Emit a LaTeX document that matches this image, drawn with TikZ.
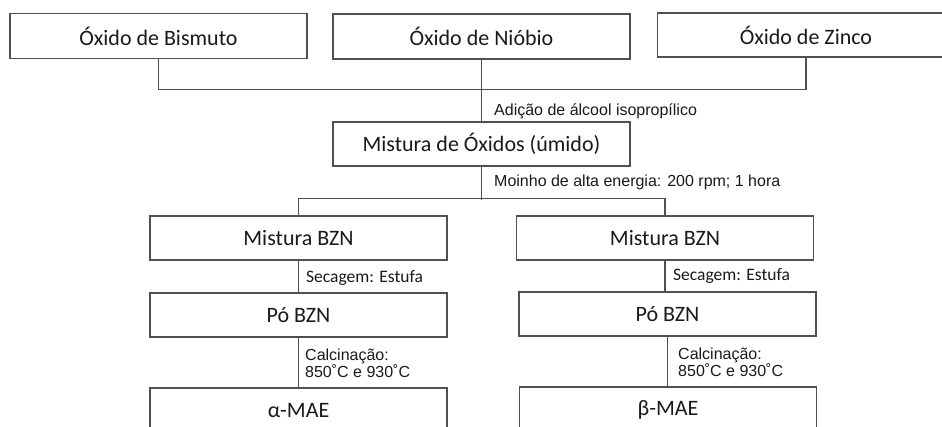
\documentclass[tikz,border=0pt]{standalone}
\usepackage{fontspec}
\setmainfont{Carlito}
\newfontfamily\arialf{Liberation Sans}
\definecolor{linegray}{HTML}{505050}
\definecolor{txt}{HTML}{1A1A1A}
\begin{document}
\begin{tikzpicture}[x=1pt,y=-1pt,
  box/.style={draw=linegray, line width=1.3pt, minimum width=297pt, minimum height=45pt,
    inner sep=0pt, font=\fontsize{22}{26}\selectfont, text=txt},
  lbl/.style={anchor=west, inner sep=0pt, font=\arialf\fontsize{16}{17}\selectfont, align=left, text=txt},
  lblc/.style={anchor=west, inner sep=0pt, font=\fontsize{17.5}{20}\selectfont, text=txt},
  conn/.style={draw=linegray, line width=1.3pt}]
\useasboundingbox (0,0) rectangle (942,426);
\clip (0,0) rectangle (942,426);
\fill[white] (0,0) rectangle (942,426);
% boxes
\node[box] (bis) at (158.5,36) {Óxido de Bismuto};
\node[box] (nio) at (481.5,36.5) {Óxido de Nióbio};
\node[box, minimum height=44pt] (zin) at (806,35) {Óxido de Zinco};
\node[box, minimum height=44pt] (mix) at (481.5,144) {Mistura de Óxidos (úmido)};
\node[box, minimum height=44pt] (bznL) at (298.5,238) {Mistura BZN};
\node[box, minimum height=44pt] (bznR) at (665,238) {Mistura BZN};
\node[box, minimum height=44pt] (poL) at (298.5,315) {Pó BZN};
\node[box, minimum height=44pt] (poR) at (667.5,314) {Pó BZN};
\node[box, minimum height=46pt] (alf) at (298.5,411) {α-MAE};
\node[box, minimum height=46pt] (bet) at (668,410) {β-MAE};
% connectors
\draw[conn] (bis.south) -- ++(0,30) -| (zin.south);
\draw[conn] (nio.south) -- (mix.north);
\draw[conn] (mix.south) -- ++(0,33) coordinate (split);
\draw[conn] (bznL.north) -- ++(0,-17) -| (bznR.north);
\draw[conn] (bznL.south) -- (bznL.south |- poL.north);
\draw[conn] (bznR.south) -- (bznR.south |- poR.north);
\draw[conn] (poL.south) -- (poL.south |- alf.north);
\draw[conn] (poR.south) -- (poR.south |- bet.north);
% labels
\node[lbl] (l1) at (494,111) {Adição de álcool isopropílico};
\node[lbl] (l2) at (494,182) {Moinho de alta energia: 200 rpm; 1 hora};
\node[lblc] (l3) at (306,278) {Secagem: Estufa};
\node[lblc] (l4) at (673,276) {Secagem: Estufa};
\node[lbl] (l5) at (305,363.5) {Calcinação:\\850˚C e 930˚C};
\node[lbl] (l6) at (678,362) {Calcinação:\\850˚C e 930˚C};
\end{tikzpicture}
\end{document}
